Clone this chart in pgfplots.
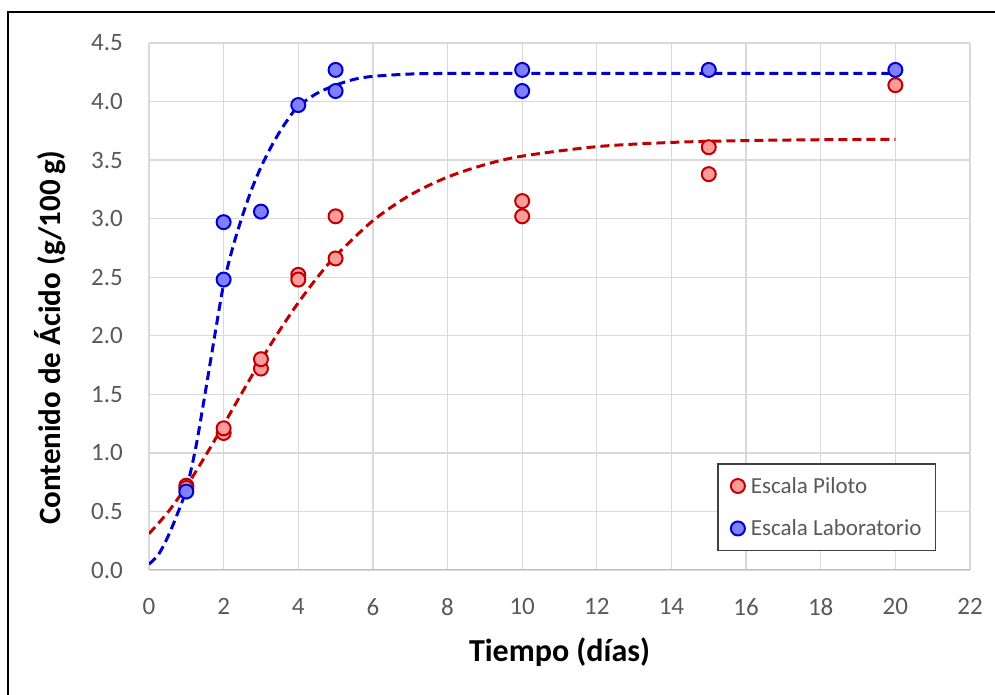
\documentclass[border=0pt]{standalone}
\usepackage{pgfplots}
\pgfplotsset{compat=1.18}
\usepackage{fontspec}
\setmainfont{Carlito}
\definecolor{tickgray}{HTML}{595959}
\definecolor{gridgray}{HTML}{D9D9D9}
\definecolor{axgray}{HTML}{BFBFBF}
\definecolor{redfill}{HTML}{FF9B9B}
\definecolor{redline}{HTML}{C00000}
\definecolor{bluefill}{HTML}{7F7FFF}
\definecolor{blueline}{HTML}{0000CC}
\definecolor{legdraw}{HTML}{404040}

\pgfplotstableread{
x y
1 0.72
1 0.70
2 1.17
2 1.21
3 1.72
3 1.80
4 2.52
4 2.48
5 3.02
5 2.66
10 3.15
10 3.02
15 3.61
15 3.38
20 4.14
}\piloto

\pgfplotstableread{
x y
1 0.67
2 2.97
2 2.48
3 3.06
4 3.97
5 4.27
5 4.09
10 4.27
10 4.09
15 4.27
20 4.27
}\laboratorio

\pgfplotstableread{
x y
0 0.310
0.5 0.491
1 0.713
1.5 0.968
2 1.240
2.5 1.518
3 1.790
3.5 2.046
4 2.282
4.5 2.494
5 2.681
6 2.983
7 3.202
8 3.355
9 3.461
10 3.534
12 3.615
14 3.651
16 3.667
18 3.674
20 3.678
}\pilotofit

\pgfplotstableread{
x y
0 0.05
0.25 0.13
0.5 0.28
0.75 0.47
1.0 0.69
1.25 1.04
1.5 1.50
1.75 1.98
2.0 2.44
2.25 2.76
2.5 3.02
2.75 3.25
3.0 3.44
3.25 3.60
3.5 3.74
3.75 3.86
4.0 3.96
4.5 4.07
5.0 4.14
5.5 4.19
6.0 4.215
7.0 4.235
8.0 4.24
10 4.24
14 4.24
20 4.24
}\labfit

\begin{document}
\begin{tikzpicture}[x=1pt,y=1pt]
\path[use as bounding box] (0,0) rectangle (995,695);
\draw[black,line width=2pt] (8,-2) -- (8,683) -- (997,683);
\begin{axis}[
  at={(149pt,125pt)}, anchor=south west,
  scale only axis, width=821pt, height=527pt,
  xmin=0, xmax=22, ymin=0, ymax=4.5,
  xtick={0,2,4,6,8,10,12,14,16,18,20,22},
  ytick={0,0.5,1,1.5,2,2.5,3,3.5,4,4.5},
  yticklabel={\pgfmathprintnumber[fixed,fixed zerofill,precision=1]{\tick}},
  grid=major, grid style={gridgray,line width=1.3pt},
  axis line style={draw=none},
  major tick length=0pt,
  /pgf/number format/assume math mode=true,
  tick label style={font=\fontsize{25}{30}\selectfont, text=tickgray, inner sep=0pt},
  xticklabel shift=28pt, yticklabel shift=26pt,
  xlabel={\textbf{Tiempo (días)}},
  ylabel={\textbf{Contenido de Ácido (g/100\,g)}},
  xlabel style={font=\fontsize{32}{38}\selectfont, text=black, at={(axis description cs:0.5,-0.1556)}, anchor=center},
  ylabel style={font=\fontsize{31}{37}\selectfont, text=black, at={(axis description cs:-0.1206,0.441)}, anchor=center},
  legend style={at={(0.692,0.203)}, anchor=north west, draw=legdraw, line width=1.5pt,
    font=\fontsize{23}{27}\selectfont, text=tickgray, inner xsep=12pt, inner ysep=11.5pt,
    row sep=21pt, cells={anchor=west},
    /tikz/every odd column/.append style={column sep=3pt}},
  legend cell align=left,
]
\addplot[only marks, mark=*, mark size=7pt, mark options={line width=2pt, draw=redline, fill=redfill},
  legend image code/.code={\draw[line width=2pt, draw=redline, fill=redfill] (10pt,0pt) circle (7pt);}]
  table[x=x,y=y] {\piloto};
\addlegendentry{Escala Piloto}
\addplot[only marks, mark=*, mark size=7pt, mark options={line width=2pt, draw=blueline, fill=bluefill},
  legend image code/.code={\draw[line width=2pt, draw=blueline, fill=bluefill] (10pt,0pt) circle (7pt);}]
  table[x=x,y=y] {\laboratorio};
\addlegendentry{Escala Laboratorio}
\addplot[forget plot, smooth, no marks, redline, line width=3pt, dash pattern=on 9pt off 5pt] table[x=x,y=y] {\pilotofit};
\addplot[forget plot, smooth, no marks, blueline, line width=3pt, dash pattern=on 9pt off 5pt] table[x=x,y=y] {\labfit};
\draw[axgray,line width=1.5pt] (rel axis cs:0,0) -- (rel axis cs:1,0);
\end{axis}
\end{tikzpicture}
\end{document}
